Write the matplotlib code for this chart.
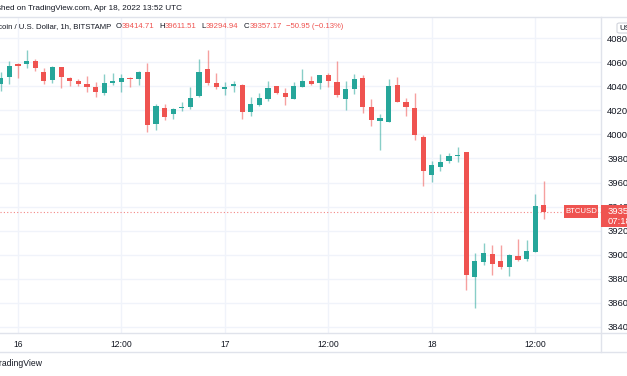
import numpy as np
import matplotlib.pyplot as plt
from matplotlib.patches import Rectangle, FancyBboxPatch
from matplotlib.lines import Line2D

plt.rcParams['font.family'] = ['Liberation Sans', 'DejaVu Sans']

## hourly BTCUSD candles, hours counted from Apr 16 00:00 (first one is Apr 15 22:00)
hours = list(range(-2, 62))
opens = [40424, 40482, 40585, 40585, 40610, 40524, 40454, 40560, 40471, 40449,
         40421, 40396, 40349, 40426, 40437, 40474, 40460, 40521, 40085, 40218,
         40171, 40218, 40232, 40321, 40543, 40432, 40382, 40407, 40415, 40187,
         40246, 40293, 40401, 40349, 40299, 40399, 40443, 40426, 40493, 40440,
         40293, 40382, 40470, 40233, 40112, 40107, 40410, 40274, 40218, 39982,
         39665, 39726, 39782, 39821, 39851, 38810, 38938, 39004, 38943, 38899,
         38988, 38963, 39024, 39414.71]
highs = [40524, 40612, 40599, 40704, 40626, 40551, 40571, 40565, 40482, 40462,
         40487, 40440, 40504, 40510, 40501, 40482, 40526, 40596, 40254, 40254,
         40224, 40274, 40396, 40629, 40704, 40515, 40440, 40446, 40420, 40315,
         40349, 40446, 40405, 40385, 40440, 40543, 40487, 40499, 40510, 40610,
         40446, 40504, 40498, 40295, 40171, 40462, 40476, 40304, 40343, 39999,
         39779, 39840, 39843, 39899, 39857, 39010, 39093, 39076, 39082, 39004,
         39129, 39121, 39504, 39611.51]
lows = [40365, 40418, 40474, 40551, 40529, 40421, 40432, 40390, 40404, 40401,
        40357, 40310, 40326, 40412, 40351, 40399, 40415, 40024, 40035, 40121,
        40132, 40196, 40210, 40315, 40412, 40379, 40332, 40351, 40132, 40154,
        40240, 40282, 40337, 40249, 40295, 40395, 40410, 40379, 40396, 40310,
        40205, 40340, 40176, 40073, 39871, 40100, 40270, 40157, 39954, 39571,
        39607, 39699, 39765, 39771, 38707, 38557, 38910, 38832, 38879, 38821,
        38943, 38943, 39020, 39294.94]
closes = [40474, 40571, 40568, 40612, 40551, 40443, 40560, 40482, 40446, 40424,
          40396, 40354, 40429, 40443, 40474, 40465, 40521, 40079, 40235, 40146,
          40212, 40232, 40301, 40521, 40426, 40399, 40399, 40418, 40190, 40257,
          40301, 40390, 40349, 40315, 40404, 40443, 40424, 40493, 40443, 40330,
          40376, 40460, 40230, 40121, 40137, 40404, 40274, 40226, 39996, 39699,
          39743, 39768, 39824, 39829, 38832, 38949, 39015, 38918, 38899, 38999,
          38954, 39026, 39408.12, 39357.17]

xtick_pos = [0, 12, 24, 36, 48, 60]
xtick_labels = ['16', '12:00', '17', '12:00', '18', '12:00']
ytick_vals = list(range(38400, 40801, 200))

UP = '#26a69a'
DOWN = '#ef5350'
TXT = '#131722'
SEP = '#e0e3eb'
GRID = '#f0f3fa'

W, H = 627, 376
def px(x): return x / W
def py(y): return 1 - y / H

fig = plt.figure(figsize=(W / 100, H / 100), dpi=100)
fig.patch.set_facecolor('white')
ax = fig.add_axes([0, py(333), px(601), (333 - 17) / H])

# candles
o = np.array(opens); c = np.array(closes)
cols = [UP if cc >= oo else DOWN for oo, cc in zip(o, c)]
bottoms = np.minimum(o, c)
heights = np.maximum(np.abs(c - o), 8)
ax.vlines(hours, lows, highs, colors=cols, lw=1, alpha=0.55, zorder=2)
ax.bar(hours, heights, bottom=bottoms, width=0.6, color=cols, lw=0, zorder=3)

# last price dotted line
ax.axhline(closes[-1], color=DOWN, lw=0.8, ls=(0, (1, 2)), alpha=0.7, zorder=1)

ax.set_xlim(-2.088, 67.63)
ax.set_ylim(38346, 40979)
ax.set_xticks(xtick_pos)
ax.set_xticklabels(xtick_labels)
ax.set_yticks(ytick_vals)
ax.yaxis.tick_right()
ax.tick_params(axis='y', length=0, pad=4.5, labelsize=6.8, labelcolor=TXT)
ax.tick_params(axis='x', length=0, pad=5, labelsize=6.2, labelcolor=TXT)
ax.grid(True, color=GRID, lw=1, zorder=0)
ax.set_axisbelow(True)
for s in ['top', 'left', 'right', 'bottom']:
    ax.spines[s].set_visible(False)

# panel separators
fig.add_artist(Line2D([0, 1], [py(17), py(17)], color=SEP, lw=1))
fig.add_artist(Line2D([0, 1], [py(333), py(333)], color=SEP, lw=1))
fig.add_artist(Line2D([0, 1], [py(352), py(352)], color=SEP, lw=1))
fig.add_artist(Line2D([px(601), px(601)], [py(17), py(352)], color=SEP, lw=1))

# BTCUSD label and price box
fig.add_artist(Rectangle((px(564), py(218)), px(34), 13 / H, fc=DOWN, ec='none', zorder=5))
fig.text(px(581), py(211.5), 'BTCUSD', color='white', fontsize=5.6, ha='center', va='center', zorder=6)
fig.add_artist(Rectangle((px(601), py(227)), px(30), 22 / H, fc=DOWN, ec='none', zorder=5))
fig.text(px(607.5), py(211.5), '%.2f' % closes[-1], color='white', fontsize=6.8, ha='left', va='center', zorder=6)
fig.text(px(607.5), py(221), '07:18', color='white', fontsize=6.8, ha='left', va='center', zorder=6)

# currency button
fig.add_artist(FancyBboxPatch((px(617), py(33)), px(14), 10 / H, boxstyle='round,pad=0,rounding_size=0.004',
                              fc='white', ec='#d1d4dc', lw=0.8, zorder=5))
fig.text(px(619.5), py(28), 'USD', color=TXT, fontsize=5.8, ha='left', va='center', zorder=6)

# header
fig.text(px(182), py(9), 'Published on TradingView.com, Apr 18, 2022 13:52 UTC',
         fontsize=5.9, color=TXT, ha='right', va='center')

chg = closes[-1] - closes[-2]
pct = chg / closes[-2] * 100
pieces = [('Bitcoin / U.S. Dollar, 1h, BITSTAMP', TXT, 5),
          ('O', TXT, 0), ('%.2f' % opens[-1], DOWN, 5),
          ('H', TXT, 0), ('%.2f' % highs[-1], DOWN, 5),
          ('L', TXT, 0), ('%.2f' % lows[-1], DOWN, 5),
          ('C', TXT, 0), ('%.2f' % closes[-1], DOWN, 4),
          ('\u2212%.2f (\u2212%.2f%%)' % (abs(chg), abs(pct)), DOWN, 0)]

# chained right to left from the end of the line
prev = None
for txt, col, gap in reversed(pieces):
    if prev is None:
        prev = fig.text(px(343), py(30.5), txt, fontsize=5.6, color=col, ha='right', va='bottom')
    else:
        prev = ax.annotate(txt, xy=(0, 0), xycoords=prev, xytext=(-gap, 0), textcoords='offset pixels',
                           fontsize=5.6, color=col, ha='right', va='bottom', annotation_clip=False)

fig.text(px(43), py(363), 'TradingView', fontsize=6.2, color=TXT, ha='right', va='center')

fig.savefig('out.png', dpi=100)
